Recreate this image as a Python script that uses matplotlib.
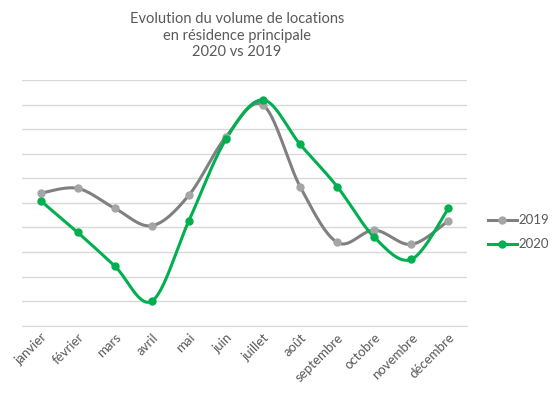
import numpy as np
import matplotlib.pyplot as plt

months = ["janvier", "février", "mars", "avril", "mai", "juin", "juillet",
          "août", "septembre", "octobre", "novembre", "décembre"]
values_2019 = [5.39, 5.59, 4.78, 4.07, 5.31, 7.69, 8.98, 5.66, 3.39, 3.89, 3.31, 4.27]
values_2020 = [5.09, 3.80, 2.43, 1.00, 4.27, 7.59, 9.19, 7.38, 5.66, 3.60, 2.70, 4.78]

plt.rcParams['font.family'] = ['Lato', 'DejaVu Sans']
TEXT = "#595959"


def smooth_curve(x, y, steps=30):
    """Catmull-Rom style Bezier smoothing, like Excel's smoothed lines."""
    x = np.asarray(x, float)
    y = np.asarray(y, float)
    n = len(x)
    xs, ys = [], []
    t = np.linspace(0, 1, steps)
    for i in range(n - 1):
        p0 = np.array([x[max(i - 1, 0)], y[max(i - 1, 0)]])
        p1 = np.array([x[i], y[i]])
        p2 = np.array([x[i + 1], y[i + 1]])
        p3 = np.array([x[min(i + 2, n - 1)], y[min(i + 2, n - 1)]])
        c1 = p1 + (p2 - p0) / 6
        c2 = p2 - (p3 - p1) / 6
        pts = (np.outer((1 - t) ** 3, p1) + np.outer(3 * (1 - t) ** 2 * t, c1)
               + np.outer(3 * (1 - t) * t ** 2, c2) + np.outer(t ** 3, p2))
        xs.extend(pts[:, 0])
        ys.extend(pts[:, 1])
    return np.array(xs), np.array(ys)


fig = plt.figure(figsize=(5.56, 3.97), dpi=100)
ax = fig.add_axes([22 / 556, 71.3 / 397, 445 / 556, 245.7 / 397])

x = np.arange(len(months))
series = [
    ("2019", values_2019, "#808080", "#A5A5A5"),
    ("2020", values_2020, "#00B050", "#00B050"),
]
for label, vals, line_color, marker_color in series:
    sx, sy = smooth_curve(x, vals)
    ax.plot(sx, sy, color=line_color, lw=2.2, solid_capstyle="round", zorder=3)
    ax.plot(x, vals, "o", color=marker_color, ms=5, zorder=4)
    ax.plot([], [], color=line_color, lw=2.2, marker="o", ms=5,
            markerfacecolor=marker_color, markeredgecolor=marker_color, label=label)

ax.set_xlim(-0.5, len(months) - 0.5)
ax.set_ylim(0, 10)
ax.set_yticks(np.arange(0, 11))
ax.yaxis.grid(True, color="#D9D9D9", lw=1)
ax.set_axisbelow(True)
ax.tick_params(axis="y", left=False, labelleft=False)
ax.tick_params(axis="x", length=0, pad=4)
for side in ["top", "right", "left"]:
    ax.spines[side].set_visible(False)
ax.spines["bottom"].set_color("#D9D9D9")

ax.set_xticks(x)
ax.set_xticklabels(months, rotation=45, ha="right", rotation_mode="anchor",
                   fontsize=9.5, color=TEXT)

fig.text(237 / 556, 1 - 12 / 397,
         "Evolution du volume de locations\nen résidence principale\n2020 vs 2019",
         ha="center", va="top", fontsize=10.5, color=TEXT, linespacing=1.25)

ax.legend(loc="center left", bbox_to_anchor=(1.02, 0.38), frameon=False,
          fontsize=9.5, labelcolor=TEXT, handlelength=2.2, handletextpad=0.1,
          labelspacing=0.9)

fig.savefig("out.png", dpi=100)
